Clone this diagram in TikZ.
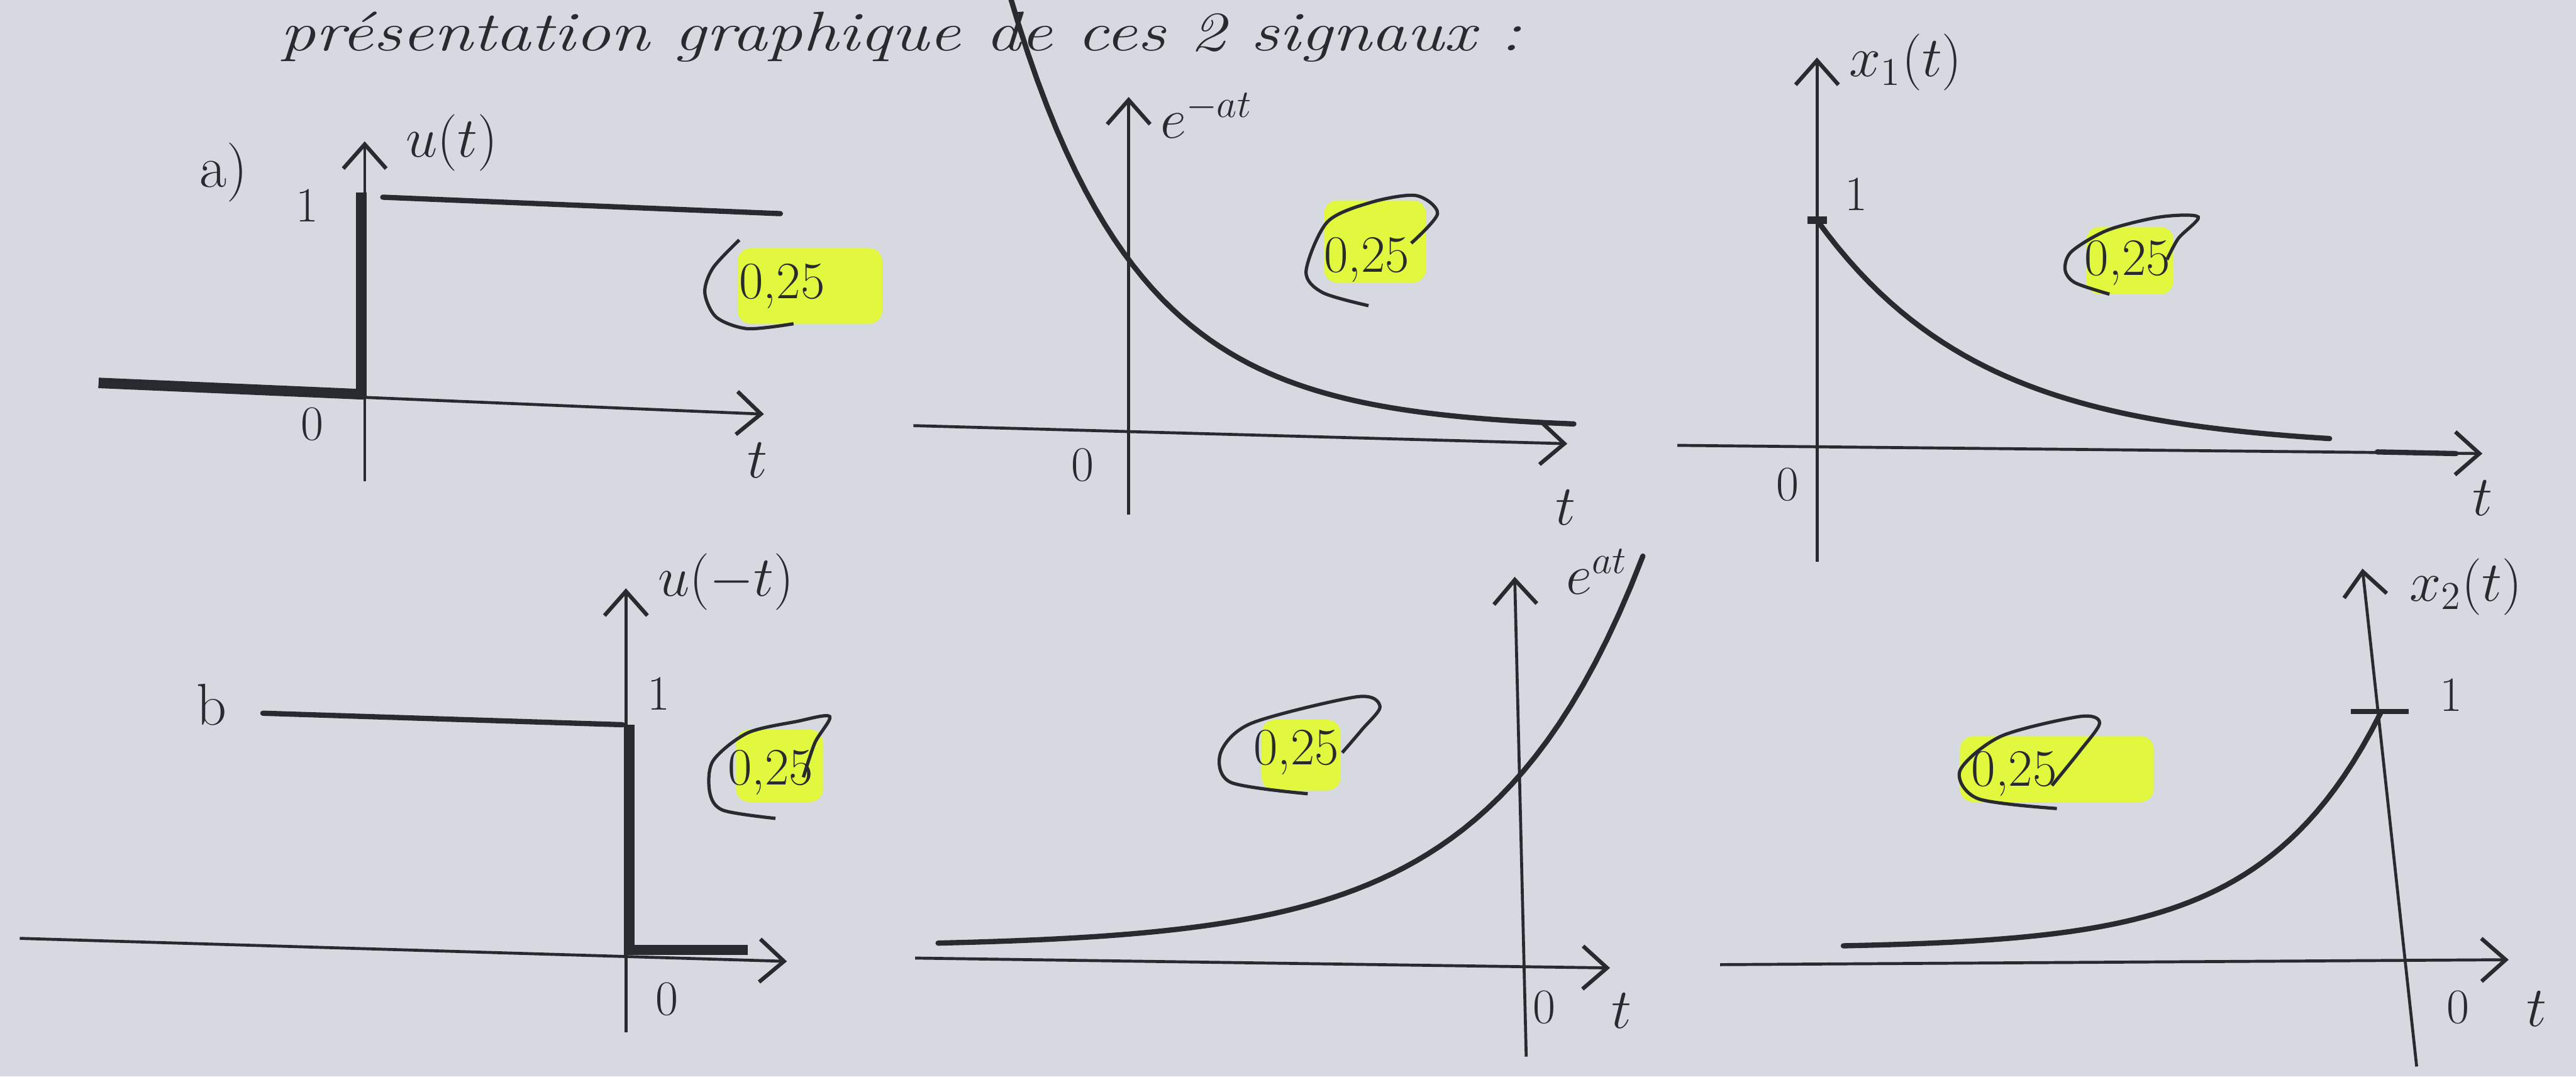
\documentclass[tikz,border=0pt]{standalone}
\usepackage{fontspec}
\usetikzlibrary{arrows.meta}
\definecolor{paper}{RGB}{214,218,224}
\definecolor{ink}{RGB}{40,42,48}
\definecolor{surligneur}{RGB}{226,248,62}
\begin{document}
\begin{tikzpicture}[
    x=0.176cm, y=-0.176cm,
    axis/.style={draw=ink, line width=0.9pt, -{Straight Barb[length=2.6mm, width=4.6mm, line width=1.2pt]}},
    signal/.style={draw=ink, line width=1.6pt, line cap=round},
    thicksig/.style={draw=ink, line width=3.2pt},
    lbl/.style={text=ink, inner sep=1pt, font=\fontsize{18}{20}\selectfont},
    num/.style={text=ink, font=\fontsize{15}{17}\selectfont},
    grade/.style={text=ink, font=\fontsize{16}{18}\selectfont},
    heading/.style={text=ink, inner sep=0pt, font=\fontsize{17}{20}\selectfont\itshape},
    hilite/.style={fill=surligneur, rounded corners=4pt},
    ring/.style={draw=ink, line width=1pt}
  ]
    % fond
    \fill[paper] (0,0) rectangle (156.8,65.5);
    \useasboundingbox (0,0) rectangle (156.8,65.5);

    % titre
    \node[heading, anchor=base west, xscale=1.27] (titre) at (17,3.1) {présentation graphique de ces 2 signaux :};

    % a) u(t)
    \draw[axis] (6,23.5) -- (46.5,25.2);
    \draw[axis] (22.2,29.3) -- (22.2,8.6);
    \draw[thicksig] (6,23.3) -- (22.2,24.0);
    \draw[thicksig] (22.0,24.1) -- (22.0,11.7);
    \draw[signal] (23.3,12.0) -- (47.5,13.0);
    \node[lbl] (la) at (13.6,10.5) {a)};
    \node[lbl] (ua) at (27.5,8.7) {$u(t)$};
    \node[num] (una) at (18.7,12.5) {1};
    \node[num] (oa) at (19,25.8) {0};
    \node[lbl] (ta) at (46.1,28.0) {$t$};
    \fill[hilite] (44.9,15.1) rectangle (53.7,19.7);
    \node[grade] (ga) at (47.6,17.4) {0,25};
    \draw[ring] plot[smooth] coordinates {(45,14.6) (43.4,16.3) (42.9,17.8) (43.6,19.3) (45.5,20.0) (48.3,19.7)};

    % e^{-at}
    \draw[axis] (55.6,25.9) -- (95.4,27.0);
    \draw[axis] (68.7,31.3) -- (68.7,5.9);
    \draw[signal] plot[domain=61.4:95.8, samples=60] (\x, {26.1-10.3*exp(-0.13*(\x-68.7))});
    \node[lbl, anchor=base west] (eb) at (70.4,8.4) {$e^{-at}$};
    \node[num] (ob) at (65.9,28.3) {0};
    \node[lbl] (tb) at (95.3,30.9) {$t$};
    \fill[hilite] (80.6,12.2) rectangle (86.8,17.2);
    \node[grade] (gb) at (83.2,15.8) {0,25};
    \draw[ring] plot[smooth] coordinates {(83.3,18.6) (80.5,17.8) (79.5,16.5) (80.8,13.5) (83.5,12.3) (86.2,11.9) (87.5,13.0) (85.9,14.8)};

    % x_1(t)
    \draw[axis] (102.1,27.1) -- (151.1,27.6);
    \draw[axis] (110.6,34.2) -- (110.6,3.5);
    \draw[signal] (144.7,27.5) -- (149.5,27.6);
    \draw[ink, line width=2.4pt] (110.0,13.4) -- (111.2,13.4);
    \draw[signal] plot[domain=110.6:141.8, samples=50] (\x, {27.3-13.9*exp(-0.1*(\x-110.6))});
    \node[lbl] (xc) at (116,3.8) {$x_1(t)$};
    \node[num] (unc) at (113,11.8) {1};
    \node[num] (oc) at (108.8,29.5) {0};
    \node[lbl] (tc) at (151.1,30.3) {$t$};
    \fill[hilite] (127.0,13.8) rectangle (132.3,17.9);
    \node[grade] (gc) at (129.5,16.0) {0,25};
    \draw[ring] plot[smooth] coordinates {(128.4,17.9) (126.3,17.2) (125.7,16.4) (126.1,15.3) (128.3,14.0) (131.5,13.2) (133.8,13.2) (132.6,14.5) (131.9,15.8)};

    % b) u(-t)
    \draw[axis] (1.2,57.1) -- (47.9,58.5);
    \draw[axis] (38.1,62.8) -- (38.1,35.8);
    \draw[signal] (16.0,43.4) -- (37.9,44.1);
    \draw[thicksig] (38.3,44.1) -- (38.3,57.8) -- (45.5,57.8);
    \node[lbl] (lb) at (12.9,42.9) {b};
    \node[lbl] (ud) at (44.2,35.4) {$u(-t)$};
    \node[num] (und) at (40.1,42.2) {1};
    \node[num] (od) at (40.6,60.8) {0};
    \fill[hilite] (44.8,44.4) rectangle (50.1,48.8);
    \node[grade] (gd) at (46.9,47.0) {0,25};
    \draw[ring] plot[smooth] coordinates {(47.2,49.8) (44.0,49.3) (43.2,48.2) (43.4,46.3) (45.5,44.6) (48.5,43.9) (50.5,43.6) (49.6,45.2) (48.9,47.3)};

    % e^{at}
    \draw[axis] (55.7,58.3) -- (98.0,58.9);
    \draw[axis] (92.9,64.3) -- (92.2,35.1);
    \draw[signal] plot[domain=57.1:100, samples=60] (\x, {57.6-10.3*exp(0.11*(\x-92.4))});
    \node[lbl] (ee) at (97.2,34.8) {$e^{at}$};
    \node[num] (oe) at (94.0,61.3) {0};
    \node[lbl] (te) at (98.7,61.5) {$t$};
    \fill[hilite] (76.8,43.8) rectangle (81.6,48.1);
    \node[grade] (ge) at (78.9,45.8) {0,25};
    \draw[ring] plot[smooth] coordinates {(79.6,48.3) (74.9,47.6) (74.3,45.8) (76.2,44.0) (82.6,42.4) (84.0,43.0) (82.9,44.4) (81.7,45.8)};

    % x_2(t)
    \draw[axis] (104.7,58.7) -- (152.7,58.4);
    \draw[axis] (147.1,64.9) -- (143.8,34.6);
    \draw[ink, line width=1.5pt] (143.1,43.3) -- (146.6,43.3);
    \draw[signal] plot[domain=112.2:144.9, samples=60] (\x, {57.7-14.3*exp(0.14*(\x-144.9))});
    \node[lbl] (xf) at (150.1,35.7) {$x_2(t)$};
    \node[num] (unf) at (149.2,42.3) {1};
    \node[num] (of) at (149.6,61.3) {0};
    \node[lbl] (tf) at (154.4,61.4) {$t$};
    \fill[hilite] (119.3,44.8) rectangle (131.1,48.8);
    \node[grade] (gf) at (122.6,47.1) {0,25};
    \draw[ring] plot[smooth] coordinates {(125.2,49.2) (120.4,48.6) (119.3,46.9) (121.8,44.8) (126.6,43.6) (127.8,44.0) (126.6,45.7) (124.9,47.8)};
  \end{tikzpicture}
\end{document}
